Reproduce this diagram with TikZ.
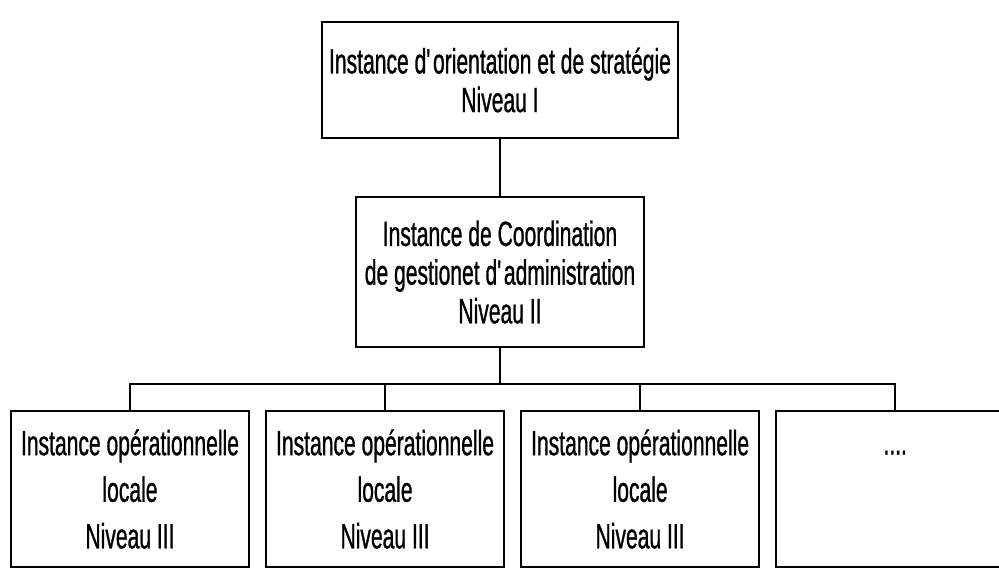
\documentclass[tikz,border=0pt]{standalone}
\usepackage{fontspec}
\setmainfont[FakeStretch=0.6, FakeBold=0.8]{Liberation Sans}
\usetikzlibrary{positioning}

\begin{document}
\begin{tikzpicture}
    [
        x=0.02cm, y=-0.02cm,
        line width=1.2pt,
        node distance=1.14cm and 0.3cm,
        upper/.style={draw, rectangle, align=center, inner sep=2pt,
            font=\fontsize{20}{22}\selectfont},
        lower/.style={draw, rectangle, align=center, inner sep=2pt,
            minimum width=4.76cm, minimum height=3.12cm,
            font=\fontsize{20}{26.5}\selectfont}
    ]
        \useasboundingbox (0,0) rectangle (999,581);
        \clip (0,0) rectangle (999,581);
        % =========================================================================
        % NODES
        % =========================================================================
        % --- Niveau I ---
        \node [upper, minimum width=7.12cm, minimum height=2.32cm] (niv1) at (500,80)
            {Instance d\textquotesingle orientation et de stratégie\\Niveau I};
        % --- Niveau II ---
        \node [upper, minimum width=5.76cm, minimum height=3.0cm, below=of niv1] (niv2)
            {Instance de Coordination\\de gestionet d\textquotesingle administration\\Niveau II};
        % --- Niveau III ---
        \node [lower] (loc1) at (130,489)
            {Instance opérationnelle\\locale\\Niveau III};
        \node [lower, right=of loc1] (loc2)
            {Instance opérationnelle\\locale\\Niveau III};
        \node [lower, right=of loc2] (loc3)
            {Instance opérationnelle\\locale\\Niveau III};
        \node [lower, right=of loc3] (loc4)
            {\vphantom{Ip}....\\\mbox{}\\\vphantom{N}\mbox{}};
        \coordinate (bus) at (500,384);

        % =========================================================================
        % PATHS
        % =========================================================================
        \draw (niv1.south) -- (niv2.north);
        \draw (niv2.south) -- (bus);
        \draw (loc1.north) |- (bus) -| (loc4.north);
        \draw (loc2.north) -- (loc2.north |- bus);
        \draw (loc3.north) -- (loc3.north |- bus);

    \end{tikzpicture}
\end{document}
